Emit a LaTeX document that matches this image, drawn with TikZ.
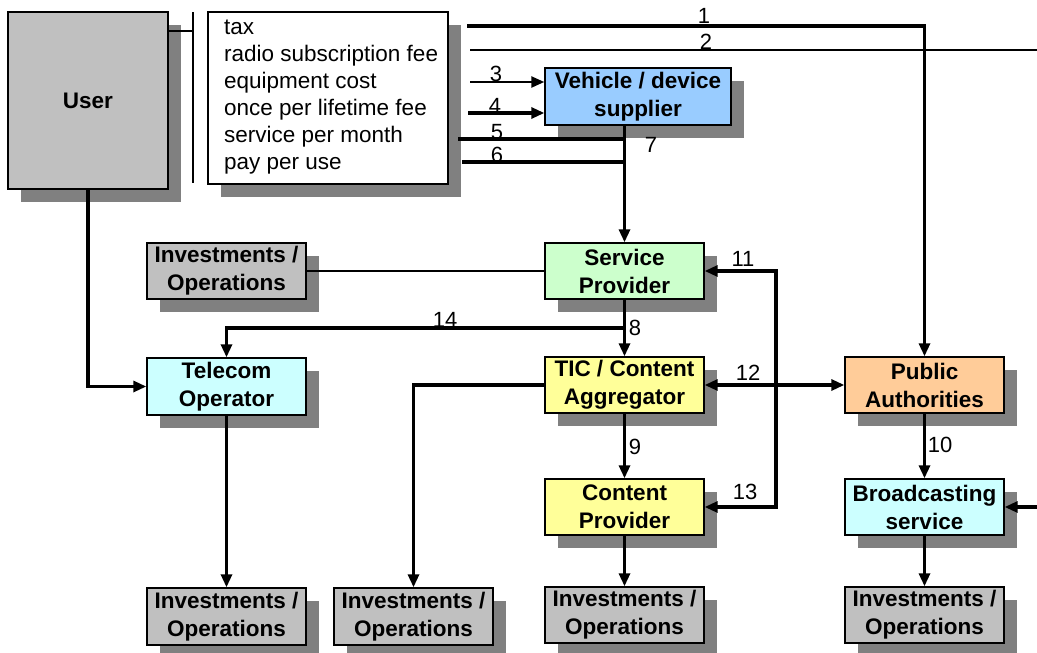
\documentclass[tikz,border=0pt]{standalone}
\usepackage{fontspec}
\setmainfont{Liberation Sans}
\usetikzlibrary{arrows.meta,shadows}
\definecolor{shadowgray}{HTML}{808080}
\definecolor{boxgray}{HTML}{C0C0C0}
\definecolor{boxblue}{HTML}{99CCFF}
\definecolor{boxgreen}{HTML}{CCFFCC}
\definecolor{boxcyan}{HTML}{CCFFFF}
\definecolor{boxyellow}{HTML}{FFFF99}
\definecolor{boxorange}{HTML}{FFCC99}
\begin{document}
\begin{tikzpicture}[x=1pt,y=-1pt,
  shadowed/.style={general shadow={shadow xshift=13pt,shadow yshift=-13pt,fill=shadowgray,draw=none}},
  box/.style={draw=black,line width=1.4pt,inner sep=0pt,align=center,
    minimum width=159pt,minimum height=56pt,
    font=\bfseries\fontsize{22.5}{28}\selectfont,shadowed},
  invbox/.style={box,fill=boxgray},
  num/.style={font=\fontsize{22}{26}\selectfont,inner sep=0pt},
  conn/.style={line width=3.1pt},
  thinconn/.style={line width=2.3pt},
  tip/.style={-{Triangle[length=13pt,width=11pt]}},
  tips/.style={{Triangle[length=13pt,width=11pt]}-{Triangle[length=13pt,width=11pt]}},
]
\useasboundingbox (0,0) rectangle (1037,653);

% --- actors ---
\node[box,fill=boxgray,minimum width=160pt,minimum height=177pt] (user) at (88,100.5) {User};
\node[draw=black,line width=1.4pt,fill=white,shadowed,inner sep=0pt,
      minimum width=240pt,minimum height=172pt] (costs) at (328,98) {};
\node[anchor=west,align=left,inner sep=0pt,font=\fontsize{22.5}{27}\selectfont] (costtext) at (224,97.5)
  {tax\\radio subscription fee\\equipment cost\\once per lifetime fee\\service per month\\pay per use};
\node[box,fill=boxblue,minimum width=186pt,minimum height=57pt] (veh) at (638,96.5) {Vehicle / device\\supplier};
\node[box,fill=boxgreen] (sp) at (624.5,271) {Service\\Provider};
\node[invbox] (inv0) at (226.5,271) {Investments /\\Operations};
\node[box,fill=boxcyan,minimum height=57pt] (tel) at (226.5,386.5) {Telecom\\Operator};
\node[box,fill=boxyellow] (tic) at (624.5,385) {TIC / Content\\Aggregator};
\node[box,fill=boxorange] (pa) at (924.5,385) {Public\\Authorities};
\node[box,fill=boxyellow] (cp) at (624.5,507) {Content\\Provider};
\node[box,fill=boxcyan] (bc) at (924.5,507) {Broadcasting\\service};
\node[invbox,minimum height=57pt] (inv1) at (226.5,616.5) {Investments /\\Operations};
\node[invbox,minimum height=57pt] (inv2) at (413.5,616.5) {Investments /\\Operations};
\node[invbox] (inv3) at (624.5,615) {Investments /\\Operations};
\node[invbox] (inv4) at (924.5,615) {Investments /\\Operations};

% --- separator between user and cost list ---
\coordinate (sep) at (193,31);
\coordinate (septop) at (193,12);
\coordinate (sepbot) at (193,183);
\draw[line width=1.3pt] (user.east |- sep) -- (sep);
\draw[line width=1.3pt] (septop) -- (sepbot);

% --- payment flows ---
\coordinate (c1) at (467,26);
\coordinate (c2) at (470,50);
\coordinate (c3) at (470,82);
\coordinate (c4) at (468,113);
\coordinate (c5) at (458,139);
\coordinate (c6) at (462,162);
\coordinate (e2) at (1037,50);
\coordinate (ebc) at (1037,507);
\coordinate (j14) at (624.5,328);
\coordinate (k) at (776,400);

\draw[conn,tip] (c1) -| (pa.north);
\draw[thinconn] (c2) -- (e2);
\draw[thinconn,tip] (c3) -- (c3 -| veh.west);
\draw[conn,tip] (c4) -- (c4 -| veh.west);
\draw[conn] (c5) -- (c5 -| sp.north);
\draw[conn] (c6) -- (c6 -| sp.north);
\draw[conn,tip] (veh.south -| sp.north) -- (sp.north);

\draw[thinconn] (inv0.east) -- (sp.west);
\draw[conn,tip] (sp.south) -- (tic.north);
\draw[conn,tip] (j14) -| (tel.north);
\draw[conn,tip] (user.south) |- (tel.west);
\draw[conn,tip] (tic.west) -| (inv2.north);
\draw[conn,tips] (tic.east) -- (pa.west);
\draw[conn,tips] (sp.east) -| (k) |- (cp.east);
\draw[conn,tip] (tic.south) -- (cp.north);
\draw[conn,tip] (pa.south) -- (bc.north);
\draw[conn,tip] (ebc) -- (bc.east);

\draw[conn,tip] (tel.south) -- (inv1.north);
\draw[conn,tip] (cp.south) -- (inv3.north);
\draw[conn,tip] (bc.south) -- (inv4.north);

% --- flow numbers ---
\node[num] (n1) at (704,16) {1};
\node[num] (n2) at (706,42) {2};
\node[num] (n3) at (496,74) {3};
\node[num] (n4) at (495,106) {4};
\node[num] (n5) at (497,132) {5};
\node[num] (n6) at (497,155) {6};
\node[num] (n7) at (651,145) {7};
\node[num] (n8) at (635,328) {8};
\node[num] (n9) at (635,447) {9};
\node[num] (n10) at (940,445) {10};
\node[num] (n11) at (743,259) {11};
\node[num] (n12) at (748,373) {12};
\node[num] (n13) at (745,492) {13};
\node[num] (n14) at (445,320) {14};
\end{tikzpicture}
\end{document}
